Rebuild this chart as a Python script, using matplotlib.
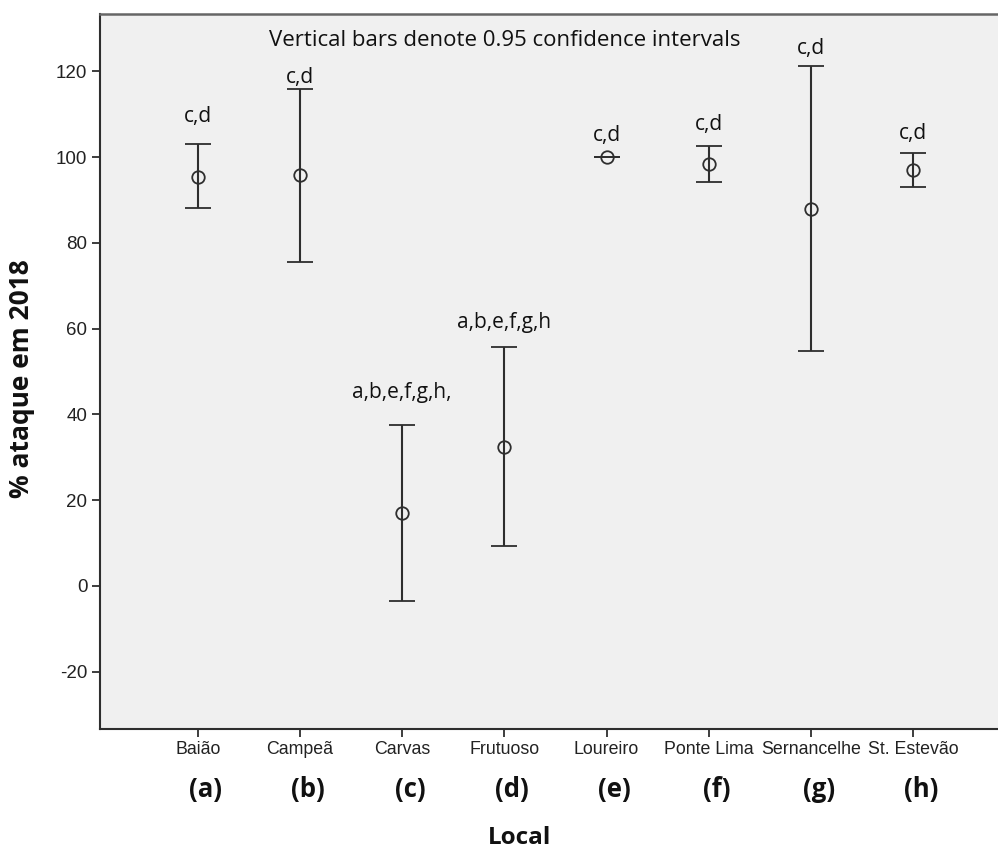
import matplotlib
matplotlib.use("Agg")
import matplotlib.pyplot as plt
import numpy as np

plt.rcParams['axes.unicode_minus'] = False

# data
locais = ["Baião", "Campeã", "Carvas", "Frutuoso", "Loureiro", "Ponte Lima", "Sernancelhe", "St. Estevão"]
letras = ["(a)", "(b)", "(c)", "(d)", "(e)", "(f)", "(g)", "(h)"]
media = [95.4, 95.8, 17.0, 32.5, 100.0, 98.5, 88.0, 97.0]
ic_sup = [103.0, 116.0, 37.5, 55.8, 100.0, 102.7, 121.2, 101.0]
ic_inf = [88.1, 75.5, -3.5, 9.2, 100.0, 94.3, 54.7, 93.0]
grupos = ["c,d", "c,d", "a,b,e,f,g,h,", "a,b,e,f,g,h", "c,d", "c,d", "c,d", "c,d"]
grupos_y = [109.4, 118.7, 45.1, 61.4, 105.1, 107.7, 125.4, 105.5]

x = np.arange(len(locais))
media = np.array(media)
err = [media - np.array(ic_inf), np.array(ic_sup) - media]

fig = plt.figure(figsize=(9.98, 8.5), dpi=100, facecolor='white')
ax = fig.add_axes([0.1002, 0.1424, 0.8998, 0.8411])
ax.set_facecolor('#f0f0f0')

dark = '#2e2e2e'
ax.errorbar(x, media, yerr=err, fmt='o', color=dark, ecolor=dark, elinewidth=1.5,
            capsize=9.5, capthick=1.5, markersize=9, markerfacecolor='none',
            markeredgecolor=dark, markeredgewidth=1.3)

# group letters above each interval
for i in range(len(locais)):
    ax.text(x[i], grupos_y[i], grupos[i], ha='center', va='center',
            fontsize=15, family='Open Sans', color='#111111')

ax.text(3.0, 127.2, "Vertical bars denote 0.95 confidence intervals", ha='center', va='center',
        fontsize=16, family='Open Sans', color='#111111')

ax.set_xlim(-0.956, 7.83)
ax.set_ylim(-33.4, 133.4)
ax.set_yticks(np.arange(-20, 121, 20))
ax.set_xticks(x)
ax.set_xticklabels(locais, family='Liberation Sans', fontsize=12.8)
for lab in ax.get_yticklabels():
    lab.set_family('Liberation Sans')
    lab.set_fontsize(13.5)
ax.tick_params(direction='out', length=5.5, width=1.3, color=dark, pad=3.5, labelcolor='#222222')

for s in ['left', 'bottom']:
    ax.spines[s].set_color(dark)
    ax.spines[s].set_linewidth(1.5)
ax.spines['top'].set_color('#666666')
ax.spines['top'].set_linewidth(1.8)
ax.spines['right'].set_visible(False)

# (a)..(h) under the category names
for i in range(len(letras)):
    ax.annotate(letras[i], xy=(x[i], 0), xycoords=('data', 'axes fraction'),
                xytext=(8, -61), textcoords='offset pixels', ha='center', va='center',
                fontsize=18.5, fontweight='bold', family='Open Sans', color='#111111',
                annotation_clip=False)

fig.text(520 / 998, 1 - 838 / 850, "Local", ha='center', va='center', fontsize=17.5,
         fontweight='bold', family='Open Sans', color='#111111')
fig.text(22 / 998, 1 - 379 / 850, "% ataque em 2018", ha='center', va='center', rotation=90,
         fontsize=19, fontweight='bold', family='Open Sans', color='#111111')

fig.savefig("out.png", dpi=100, facecolor='white')
